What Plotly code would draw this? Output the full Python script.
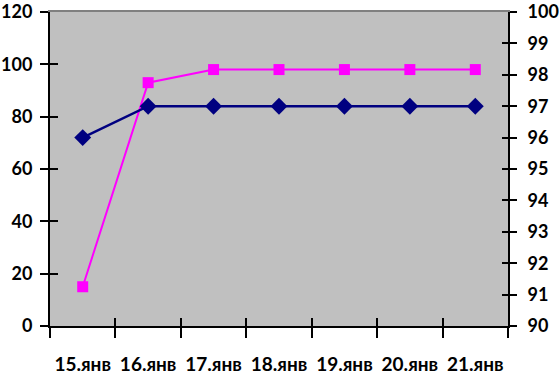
import plotly.graph_objects as go

categories = ["15.янв", "16.янв", "17.янв", "18.янв", "19.янв", "20.янв", "21.янв"]
series_left = [15, 93, 98, 98, 98, 98, 98]      # magenta squares, left axis
series_right = [96, 97, 97, 97, 97, 97, 97]      # navy diamonds, right axis
left_ticks = [0, 20, 40, 60, 80, 100, 120]
right_ticks = list(range(90, 101))

idx = list(range(len(categories)))
bounds = [i - 0.5 for i in range(len(categories) + 1)]
FONT = dict(family="Lato, Carlito, sans-serif", size=19, color="black", weight="bold")
YFONT = dict(family="Lato, Carlito, sans-serif", size=18, color="black", weight="bold")

fig = go.Figure()
# empty helper traces so overlay axes (cross ticks, labels) get drawn
for xa, ya in [("x2", "y"), ("x3", "y3"), ("x4", "y4")]:
    fig.add_trace(go.Scatter(x=[None], y=[None], xaxis=xa, yaxis=ya, mode="lines",
                             showlegend=False, hoverinfo="skip"))
fig.add_trace(go.Scatter(x=idx, y=series_right, yaxis="y2", mode="lines+markers",
                         line=dict(color="#000080", width=2.5),
                         marker=dict(symbol="diamond", size=13, color="#000080"),
                         showlegend=False))
fig.add_trace(go.Scatter(x=idx, y=series_left, yaxis="y", mode="lines+markers",
                         line=dict(color="#FF00FF", width=2),
                         marker=dict(symbol="square", size=11, color="#FF00FF"),
                         showlegend=False))

xr = [-0.5, len(categories) - 0.5]
common_x = dict(range=xr, showgrid=False, zeroline=False, fixedrange=True, automargin=False)
common_y = dict(showgrid=False, zeroline=False, fixedrange=True, automargin=False,
                ticklabeloverflow="allow")

fig.update_layout(
    width=559, height=377,
    margin=dict(l=50, r=51, t=12, b=51),
    paper_bgcolor="white", plot_bgcolor="#C0C0C0",
    font=FONT,
    xaxis=dict(**common_x, tickmode="array", tickvals=bounds, ticktext=[""] * len(bounds),
               ticks="outside", ticklen=10, tickwidth=2, tickcolor="black",
               showline=True, linecolor="black", linewidth=2),
    xaxis2=dict(**common_x, overlaying="x", side="bottom", tickmode="array",
                tickvals=idx, ticktext=categories, ticks="", showline=False,
                ticklabelstandoff=25, tickfont=FONT, ticklabeloverflow="allow"),
    xaxis3=dict(**common_x, overlaying="x", side="bottom", tickmode="array",
                tickvals=bounds, ticktext=[""] * len(bounds),
                ticks="inside", ticklen=8, tickwidth=2, tickcolor="black", showline=False),
    xaxis4=dict(**common_x, overlaying="x", side="top", showline=True, linecolor="#808080",
                linewidth=2, showticklabels=False, ticks=""),
    yaxis=dict(**common_y, range=[0, 120], tickmode="array", tickvals=left_ticks,
               ticks="outside", ticklen=8, tickwidth=2, tickcolor="black",
               showline=True, linecolor="black", linewidth=2, tickfont=YFONT,
               ticklabelstandoff=4),
    yaxis3=dict(**common_y, range=[0, 120], overlaying="y", side="left", tickmode="array",
                tickvals=left_ticks, ticks="inside",
                ticklen=8, tickwidth=2, tickcolor="black", showticklabels=False,
                showline=False),
    yaxis2=dict(**common_y, range=[90, 100], overlaying="y", side="right", tickmode="array",
                tickvals=right_ticks, ticks="outside",
                ticklen=7, tickwidth=2, tickcolor="black", showline=True,
                linecolor="black", linewidth=2, tickfont=YFONT, ticklabelstandoff=7),
    yaxis4=dict(**common_y, range=[90, 100], overlaying="y", side="right", tickmode="array",
                tickvals=right_ticks, ticks="inside",
                ticklen=6, tickwidth=2, tickcolor="black", showticklabels=False,
                showline=False),
)

fig.write_html("out.html", config={"displayModeBar": False},
               post_script="document.body.style.margin='0px';")
